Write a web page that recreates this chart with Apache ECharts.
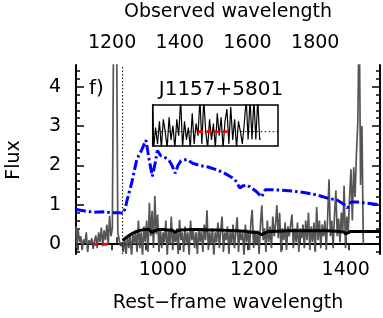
<!DOCTYPE html>
<html><head><meta charset="utf-8">
<script src="https://cdn.jsdelivr.net/npm/echarts@6/dist/echarts.min.js"></script>
<style>html,body{margin:0;padding:0;background:#fff}#c{width:383px;height:318px}</style>
</head><body><div id="c"></div>
<script>
// ---- data ----
const zPlus1 = 1.35;                 // observed = rest * (1+z)
const restStart = 810, restStep = 3; // rest-frame wavelength grid of the observed spectrum
const specFlux = [
 0.45,-0.1,0.38,0.05,0.2,-0.15,0.12,0.02,0.3,-0.2,
 0.1,0.0,0.15,-0.12,0.08,0.22,-0.1,0.3,0.05,0.42,
 -0.05,0.35,0.1,0.5,0.0,0.72,0.2,
 0.4,6,6,6,0.3,
 0.1,-0.05,0.05,-0.2,0.15,-0.25,0.2,-0.1,0.25,-0.3,
 0.25,0.0,0.35,-0.2,0.6,-0.1,0.3,-0.3,0.45,0.05,
 0.6,-0.2,1.05,0.2,0.85,-0.1,1.22,0.25,0.75,-0.2,
 0.4,-0.1,0.3,0.05,0.6,-0.3,0.35,0.0,0.7,-0.15,
 0.3,0.05,0.4,-0.25,0.62,0.1,0.3,-0.2,0.45,0.0,
 0.3,-0.3,0.6,0.1,0.35,-0.1,0.3,-0.25,0.4,0.05,
 0.35,-0.2,0.5,0.1,0.86,-0.15,0.3,0.0,0.4,-0.3,
 0.3,0.05,0.55,-0.1,0.35,0.7,-0.2,0.3,0.1,0.45,
 -0.25,0.35,0.0,0.5,-0.1,0.3,0.68,-0.2,0.35,0.1,
 0.3,-0.3,0.5,0.05,0.35,-0.15,0.55,0.87,-0.1,0.3,
 0.0,0.35,-0.25,0.5,0.99,0.1,0.4,-0.2,0.6,0.05,
 0.45,-0.1,0.7,0.2,0.5,0.99,0.15,0.8,-0.2,0.4,
 0.1,0.55,-0.15,0.45,0.2,0.5,0.75,-0.1,0.4,0.05,
 0.55,-0.2,0.4,0.15,0.5,-0.1,0.6,0.1,0.8,-0.15,
 0.45,0.05,0.55,-0.2,0.94,0.1,0.6,-0.1,0.5,0.2,
 0.6,-0.15,0.7,1.65,0.2,0.6,-0.1,0.75,1.36,0.2,
 0.65,0.05,0.8,0.3,1.48,-0.1,0.7,0.3,1.2,1.9,
 0.6,1.95,1.2,2.3,3.1,6.0,1.5,3.0,0.0
];
const modelWave = [912,920,930,940,950,960,970,976,982,990,1000,1010,1020,1026,1032,1040,1060,1080,1100,1120,1140,1160,1180,1193,1200,1210,1216,1222,1230,1250,1280,1300,1330,1360,1380,1395,1400,1404,1410,1440,1475];
const modelFlux = [0.09,0.17,0.25,0.31,0.35,0.37,0.37,0.29,0.34,0.37,0.37,0.36,0.36,0.30,0.34,0.36,0.37,0.37,0.36,0.36,0.35,0.34,0.33,0.30,0.31,0.28,0.24,0.28,0.32,0.33,0.34,0.34,0.34,0.34,0.33,0.31,0.26,0.28,0.32,0.32,0.32];
const intrWave = [810,830,850,870,890,905,913,918,922,932,943,954,963,970,977,983,988,995,1005,1015,1020,1027,1033,1040,1052,1066,1080,1099,1115,1132,1150,1160,1168,1175,1184,1195,1205,1216,1224,1240,1260,1290,1315,1340,1360,1381,1395,1404,1412,1425,1447,1475];
const intrFlux = [0.88,0.84,0.81,0.82,0.8,0.8,0.78,0.92,1.13,1.56,2.15,2.4,2.64,2.15,1.72,2.05,2.38,2.25,2.2,2.1,2.0,1.8,2.0,2.12,2.15,2.05,2.0,1.96,1.9,1.82,1.7,1.6,1.43,1.48,1.5,1.42,1.33,1.2,1.38,1.38,1.37,1.34,1.3,1.24,1.17,1.12,1.02,0.92,1.07,1.07,1.04,1.0];
const lycWave = [847, 878];
const lycFlux = [0, 0];
const lymanLimit = 912;
const insetStart = 800, insetStep = 2;
const insetFlux = [0.8,-0.4,0.1,-0.3,0.25,-0.4,0.3,0.0,-0.4,0.35,
 -0.2,0.15,-0.4,0.3,-0.1,0.8,-0.4,0.25,-0.2,0.1,
 -0.4,0.45,-0.3,0.2,-0.1,0.8,-0.3,0.8,0.0,-0.4,
 0.3,-0.2,0.2,-0.4,0.45,-0.1,0.35,-0.4,0.25,0.55,
 -0.3,0.6,-0.2,0.3,-0.4,0.25,0.0,-0.3,0.2,0.8,
 -0.19,0.8,-0.19,0.8,-0.19,0.8,-0.19];
const restTicks = [900,1000,1100,1200,1300,1400];
const restLabels = [1000,1200,1400];
const obsTicks = [1100,1200,1300,1400,1500,1600,1700,1800,1900];
const obsLabels = [1200,1400,1600,1800];
const fluxTicks = [0,1,2,3,4];
const fluxLabels = [0,1,2,3,4];
const fluxMinor = [];
for (let k = -1; k <= 22; k++) fluxMinor.push(+(k*0.2).toFixed(1));

// ---- build ----
const FONT = '"DejaVu Sans", sans-serif';
const xMin = 810, xMax = 1475, yMin = -0.25, yMax = 4.55;
const spec = specFlux.map((f,i)=>[restStart + i*restStep, f]);
const model = modelWave.map((w,i)=>[w, modelFlux[i]]);
const intr = intrWave.map((w,i)=>[w, intrFlux[i]]);
const lyc = lycWave.map((w,i)=>[w, lycFlux[i]]);
const inset = insetFlux.map((f,i)=>[insetStart + i*insetStep, f]);

const plain = v => String(v);
const lab = {fontFamily: FONT, fontSize: 19, color: '#000', formatter: plain};
function yAx(pos, major, showLab){
  return {gridIndex:0, type:'value', min:yMin, max:yMax, position:pos,
    axisLine:{show:major, lineStyle:{color:'#000', width:2}},
    axisTick:{show:true, inside:true, length: major?8:4, customValues: major?fluxTicks:fluxMinor, lineStyle:{color:'#000', width:1.5}},
    axisLabel: showLab ? Object.assign({customValues:fluxLabels, margin:15}, lab) : {show:false},
    splitLine:{show:false}};
}
const chart = echarts.init(document.getElementById('c'), null, {renderer:'canvas'});
chart.setOption({
  animation:false,
  backgroundColor:'#fff',
  grid:[
    {left:76, top:65, width:304, height:189, show:false},
    {left:152.7, top:105, width:125.3, height:41, show:true, borderColor:'#000', borderWidth:1.5, backgroundColor:'transparent'}
  ],
  xAxis:[
    {gridIndex:0, type:'value', min:xMin, max:xMax, position:'bottom',
     axisLine:{lineStyle:{color:'#000', width:2}},
     axisTick:{inside:true, length:7, customValues:restTicks, lineStyle:{color:'#000', width:1.5}},
     axisLabel:Object.assign({customValues:restLabels, margin:7}, lab), splitLine:{show:false}},
    {gridIndex:0, type:'value', min:xMin*zPlus1, max:xMax*zPlus1, position:'top',
     axisLine:{lineStyle:{color:'#000', width:2}},
     axisTick:{inside:true, length:6, customValues:obsTicks, lineStyle:{color:'#000', width:1.5}},
     axisLabel:Object.assign({customValues:obsLabels, margin:12}, lab), splitLine:{show:false}},
    {gridIndex:1, type:'value', min:800, max:930, show:false}
  ],
  yAxis:[
    yAx('left', true, true), yAx('left', false, false),
    yAx('right', true, false), yAx('right', false, false),
    {gridIndex:1, type:'value', min:-0.35, max:0.65, show:false}
  ],
  graphic:[
    {type:'text', x:228, y:12, style:{text:'Observed wavelength', font:'19px '+FONT, fill:'#000', align:'center', verticalAlign:'middle', textAlign:'center', textVerticalAlign:'middle'}},
    {type:'text', x:228, y:303, style:{text:'Rest\u2212frame wavelength', font:'19px '+FONT, fill:'#000', align:'center', verticalAlign:'middle', textAlign:'center', textVerticalAlign:'middle'}},
    {type:'text', x:14, y:160, rotation:Math.PI/2, style:{text:'Flux', font:'19px '+FONT, fill:'#000', align:'center', verticalAlign:'middle', textAlign:'center', textVerticalAlign:'middle'}},
    {type:'text', x:89, y:89, style:{text:'f)', font:'20px '+FONT, fill:'#000', align:'left', verticalAlign:'middle', textAlign:'left', textVerticalAlign:'middle'}},
    {type:'text', x:221, y:90, style:{text:'J1157+5801', font:'20px '+FONT, fill:'#000', align:'center', verticalAlign:'middle', textAlign:'center', textVerticalAlign:'middle'}}
  ],
  series:[
    {type:'line', xAxisIndex:0, yAxisIndex:0, data:spec, step:'middle', symbol:'none', clip:true,
     lineStyle:{color:'#555555', width:1.7}, z:2},
    {type:'line', xAxisIndex:0, yAxisIndex:0, data:[[xMin,0],[xMax,0]], symbol:'none',
     lineStyle:{color:'#000', width:1, type:[1.5,2.5]}, z:3},
    {type:'line', xAxisIndex:0, yAxisIndex:0, data:[[lymanLimit,yMin],[lymanLimit,yMax]], symbol:'none',
     lineStyle:{color:'#000', width:1, type:[1.5,2]}, z:3},
    {type:'line', xAxisIndex:0, yAxisIndex:0, data:model, symbol:'none',
     lineStyle:{color:'#000', width:3}, z:4},
    {type:'line', xAxisIndex:0, yAxisIndex:0, data:intr, symbol:'none',
     lineStyle:{color:'#0000ff', width:3, type:[10,3,2.5,3]}, z:4},
    {type:'line', xAxisIndex:0, yAxisIndex:0, data:lyc, symbol:'none',
     lineStyle:{color:'#ff0000', width:3, type:[5,4]}, z:5},
    {type:'line', xAxisIndex:2, yAxisIndex:4, data:inset, step:'middle', symbol:'none', clip:true,
     lineStyle:{color:'#000', width:1.2}, z:2},
    {type:'line', xAxisIndex:2, yAxisIndex:4, data:[[800,0],[930,0]], symbol:'none',
     lineStyle:{color:'#000', width:1, type:[1.5,2.5]}, z:3},
    {type:'line', xAxisIndex:2, yAxisIndex:4, data:lyc, symbol:'none',
     lineStyle:{color:'#ff0000', width:2.7, type:[5,3.3]}, z:5}
  ]
});
</script></body></html>
